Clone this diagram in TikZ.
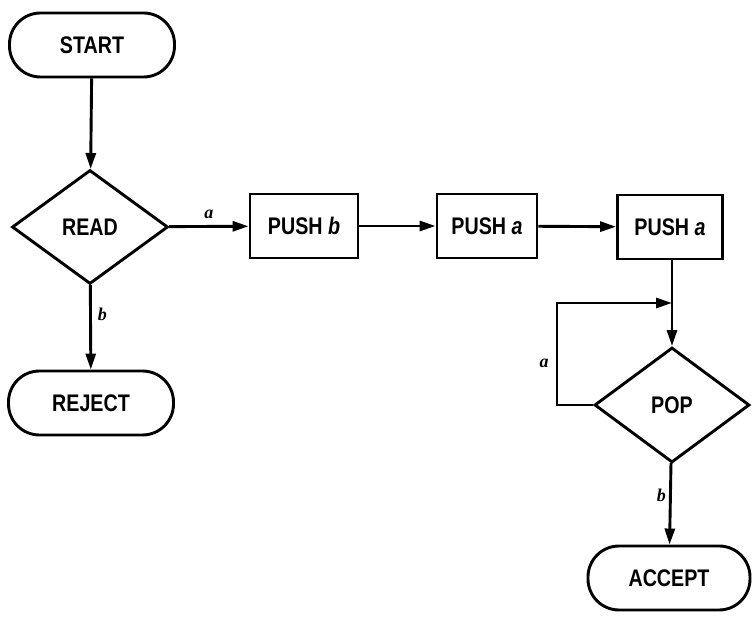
\documentclass[tikz,border=0pt]{standalone}
\usepackage{fontspec}
\setmainfont{Liberation Sans}[FakeStretch=0.82]
\newfontfamily\lblfont{Liberation Serif}
\usetikzlibrary{shapes.geometric,arrows.meta}
\begin{document}
\begin{tikzpicture}[x=1pt,y=-1pt,
  line width=2.9pt,
  every node/.style={font=\fontsize{24}{26}\selectfont\bfseries},
  term/.style={draw, rounded corners=31pt, minimum width=165pt, minimum height=64pt, inner sep=0pt},
  stackbox/.style={draw, minimum height=64pt, inner sep=0pt},
  decide/.style={draw, diamond, minimum width=156pt, minimum height=114pt, inner sep=0pt},
  lbl/.style={font=\lblfont\itshape\bfseries\fontsize{18}{20}\selectfont, inner sep=0pt},
  arr/.style={-{Triangle[length=16pt,width=10pt]}}]
\useasboundingbox (0,0) rectangle (753,617);
\node[term] (start) at (92,45) {START};
\node[decide] (read) at (90,227) {READ};
\node[term] (reject) at (91,403) {REJECT};
\node[stackbox, minimum width=108pt] (pushb) at (304,226) {PUSH \textit{b}};
\node[stackbox, minimum width=100pt] (pusha1) at (487,226) {PUSH \textit{a}};
\node[stackbox, minimum width=105pt] (pusha2) at (670,227) {PUSH \textit{a}};
\node[decide, minimum width=155pt, minimum height=115pt] (pop) at (672,405) {POP};
\node[term, minimum width=162pt] (accept) at (669,578) {ACCEPT};
\coordinate (j) at (pop.north |- 0,303);
\coordinate (lc) at (557,303);
\draw[arr] (start) -- (read);
\draw[arr] (read) -- node[lbl, above=6pt] (la) {a} (pushb);
\draw[arr] (read) -- node[lbl, right=6pt, pos=0.35] (lb) {b} (reject);
\draw[arr] (pushb) -- (pusha1);
\draw[arr] (pusha1) -- (pusha2);
\draw[arr] (pusha2.south -| pop.north) -- (pop.north);
\draw[arr] (pop.west) -| (lc) -- (j);
\node[lbl] (la3) at (544,363) {a};
\draw[arr] (pop) -- node[lbl, left=3pt, pos=0.4] (lb2) {b} (accept);
\end{tikzpicture}
\end{document}
